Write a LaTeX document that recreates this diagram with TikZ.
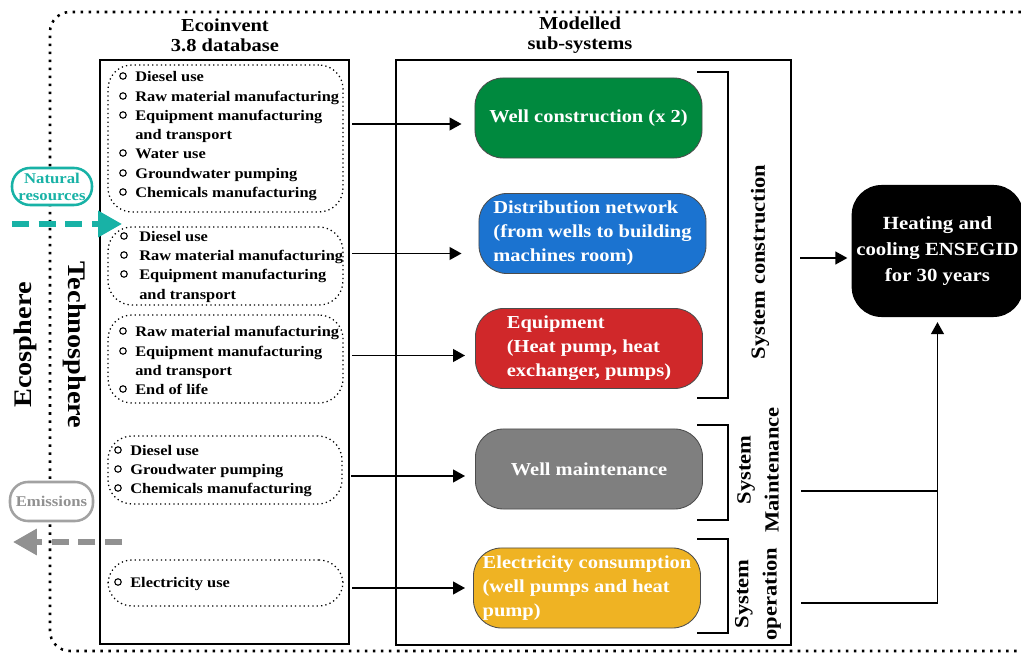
\documentclass[tikz,border=0pt]{standalone}
\usepackage{fontspec}
\setmainfont{Liberation Serif}[FakeStretch=1.12]
\usepackage{xcolor}
\usetikzlibrary{arrows.meta}
\usetikzlibrary{fit}
\usetikzlibrary{calc}

\definecolor{wellgreen}{RGB}{0,137,62}
\definecolor{distblue}{RGB}{27,115,208}
\definecolor{equipred}{RGB}{208,40,42}
\definecolor{maintgrey}{RGB}{127,127,127}
\definecolor{elecyellow}{RGB}{239,179,35}
\definecolor{natteal}{RGB}{24,178,166}
\definecolor{emigrey}{RGB}{145,145,145}

\begin{document}
\begin{tikzpicture}[x=0.025cm, y=-0.025cm,
    item/.style={anchor=west, inner sep=0pt, text height=1.6ex, text depth=0.4ex,
        yshift=-1.3pt, font=\bfseries\fontsize{10.4}{12}\selectfont},
    grp/.style={draw, dash pattern=on 0.9pt off 2.2pt, line width=0.9pt,
        rounded corners=0.6cm, inner sep=0pt},
    sub/.style={draw=black!70, line width=0.6pt, rounded corners=0.7cm,
        minimum width=5.675cm, minimum height=2cm, text=white, align=left,
        font=\bfseries\fontsize{13}{17}\selectfont},
    ttl/.style={align=center, font=\bfseries\fontsize{13}{14.5}\selectfont},
    side/.style={align=center, font=\bfseries\fontsize{14.3}{20}\selectfont},
    sphere/.style={font=\bfseries\fontsize{18}{20}\selectfont},
    pill/.style={line width=1.8pt, fill=white, rounded corners=0.45cm, inner sep=1pt,
        align=center, font=\bfseries\fontsize{10.6}{12}\selectfont},
    arr/.style={line width=1.4pt, -{Triangle[length=8.5pt,width=9pt]}},
    flow/.style={line width=3.8pt, dash pattern=on 12pt off 7pt,
        -{Triangle[length=17pt,width=18pt]}},
    brk/.style={line width=2.1pt}
]
\useasboundingbox (0,0) rectangle (1021,655);

% boundary between ecosphere and technosphere
\draw[line width=1.8pt, dash pattern=on 1.8pt off 3.9pt, rounded corners=0.5cm]
    (1021,12) -| (50,651) -- (1021,651);
\node[sphere, rotate=90] (eco) at (25,345) {Ecosphere};
\node[sphere, rotate=-90] (techno) at (75,345) {Technosphere};

% titles
\node[ttl] (ecoinv) at (225,35) {Ecoinvent\\3.8 database};
\node[ttl] (modsub) at (580,35) {Modelled\\sub-systems};

% frames
\draw[line width=1.1pt] (100,60) rectangle (349,644);
\draw[line width=1.1pt] (396,60) rectangle (791,645);

% ecoinvent groups
\node[grp, fit={(108,65) (343,212)}] (g1) {};
\node[grp, fit={(108,227) (343,305)}] (g2) {};
\node[grp, fit={(108,315) (343,403)}] (g3) {};
\node[grp, fit={(108,436) (342,504)}] (g4) {};
\node[grp, fit={(108,560) (343,606)}] (g5) {};

\foreach \y/\t [count=\i] in {76/Diesel use, 96/Raw material manufacturing,
        115/Equipment manufacturing, 153/Water use, 173/Groundwater pumping,
        192/Chemicals manufacturing}{
    \draw[line width=0.8pt] (123,\y) circle (2.3pt);
    \node[item] (g1-\i) at (135,\y) {\t};
}
\node[item] (g1-and) at (135,134) {and transport};

\foreach \y/\t [count=\i] in {236/Diesel use, 255/Raw material manufacturing,
        274/Equipment manufacturing}{
    \draw[line width=0.8pt] (124,\y) circle (2.3pt);
    \node[item] (g2-\i) at (139,\y) {\t};
}
\node[item] (g2-and) at (139,294) {and transport};

\foreach \y/\t [count=\i] in {331/Raw material manufacturing,
        351/Equipment manufacturing, 389/End of life}{
    \draw[line width=0.8pt] (123,\y) circle (2.3pt);
    \node[item] (g3-\i) at (135,\y) {\t};
}
\node[item] (g3-and) at (135,370) {and transport};

\foreach \y/\t [count=\i] in {450/Diesel use, 469/Groudwater pumping,
        488/Chemicals manufacturing}{
    \draw[line width=0.8pt] (118,\y) circle (2.3pt);
    \node[item] (g4-\i) at (130,\y) {\t};
}

\draw[line width=0.8pt] (118,582) circle (2.3pt);
\node[item] (g5-1) at (130,582) {Electricity use};

% modelled sub-systems
\node[sub, fill=wellgreen] (well) at (588.5,118) {Well construction (x 2)};
\node[sub, fill=distblue] (dist) at (592.5,233.5)
    {Distribution network\\(from wells to building\\machines room)};
\node[sub, fill=equipred] (equip) at (589,348.5)
    {Equipment\\(Heat pump, heat\\exchanger, pumps)};
\node[sub, fill=maintgrey] (maint) at (589,469) {Well maintenance};
\node[sub, fill=elecyellow] (elec) at (587,588)
    {Electricity consumption\\(well pumps and heat\\pump)};

% inputs
\coordinate (well-in) at ($(well.west)+(-13,6)$);
\coordinate (dist-in) at ($(dist.west)+(-17,20)$);
\coordinate (equip-in) at ($(equip.west)+(-10,7)$);
\coordinate (maint-in) at ($(maint.west)+(-10,7)$);
\coordinate (elec-in) at ($(elec.west)+(-8,0)$);
\draw[arr, shorten <=2.2mm] (g1.east |- well-in) -- (well-in);
\draw[arr, shorten <=2.2mm] (g2.east |- dist-in) -- (dist-in);
\draw[arr, shorten <=2.2mm] (g3.east |- equip-in) -- (equip-in);
\draw[arr, shorten <=2.2mm] (g4.east |- maint-in) -- (maint-in);
\draw[arr, shorten <=2.2mm] (g5.east |- elec-in) -- (elec-in);

% brackets
\draw[brk] (697,72) -- (728,72) -- (728,398) -- (697,398);
\draw[brk] (697,425) -- (728,425) -- (728,520) -- (697,520);
\draw[brk] (697,539) -- (728,539) -- (728,633) -- (697,633);
\node[side, rotate=90] (cons) at (760,262) {System construction};
\node[side, rotate=90] (mntlab) at (758,470) {System\\Maintenance};
\node[side, rotate=90] (oprlab) at (758,594) {System\\operation};

% functional unit
\node[fill=black, rounded corners=0.75cm, minimum width=4.125cm, minimum height=3.3cm,
    text=white, align=center, font=\bfseries\fontsize{13.2}{18.6}\selectfont]
    (hc) at (937.5,251) {Heating and\\cooling ENSEGID\\for 30 years};

\coordinate (cns-out) at (800,258);
\coordinate (mnt-out) at (801,491);
\coordinate (opr-out) at (801,603);
\draw[arr, shorten >=1mm] (cns-out) -- (cns-out -| hc.west);
\draw[line width=1.4pt] (mnt-out) -- (mnt-out -| hc.south);
\draw[arr, shorten >=1.2mm] (opr-out) -| (hc.south);

% exchanges with the ecosphere
\node[pill, draw=natteal, text=natteal, minimum width=2cm, minimum height=0.925cm]
    (nat) at (52,186.5) {Natural\\resources};
\node[pill, draw=emigrey!85, text=emigrey, minimum width=2.075cm, minimum height=0.975cm]
    (emi) at (51.5,501.5) {Emissions};
\coordinate (nat-a) at (12,224);
\coordinate (nat-b) at (122,224);
\coordinate (emi-a) at (122,542);
\coordinate (emi-b) at (13,542);
\draw[flow, natteal] (nat-a) -- (nat-b);
\draw[flow, emigrey] (emi-a) -- (emi-b);
\end{tikzpicture}
\end{document}
